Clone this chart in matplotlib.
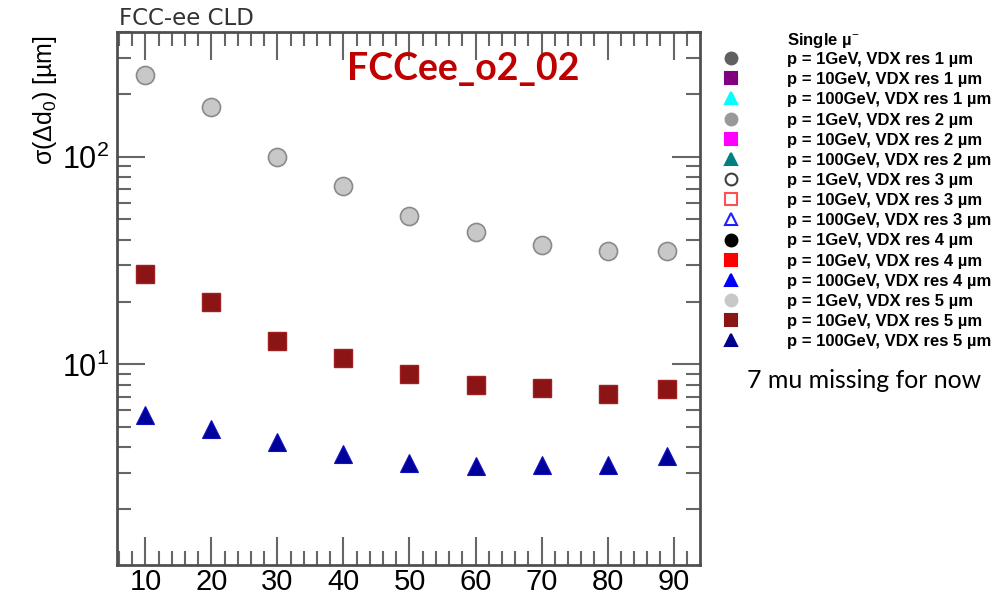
import matplotlib
matplotlib.use("Agg")
import matplotlib.pyplot as plt
from matplotlib.lines import Line2D
from matplotlib.ticker import FixedLocator, LogLocator, NullFormatter, LogFormatterSciNotation

plt.rcParams['font.family'] = ['Liberation Sans', 'DejaVu Sans']
plt.rcParams['mathtext.fontset'] = 'custom'
plt.rcParams['mathtext.rm'] = 'Liberation Sans'
plt.rcParams['mathtext.it'] = 'Liberation Sans:italic'

# polar angle (deg)
theta = [10, 20, 30, 40, 50, 60, 70, 80, 89]

# VDX res 5 um (the other resolutions lie on top of these)
sig_1gev = [248, 174, 100, 72.6, 52, 43.5, 37.8, 35.3, 35.3]
sig_10gev = [27.4, 19.9, 12.9, 10.7, 8.96, 7.93, 7.67, 7.17, 7.58]
sig_100gev = [5.69, 4.87, 4.22, 3.69, 3.34, 3.24, 3.27, 3.27, 3.61]

# legend: (label, marker, face, edge)
leg_entries = [
    ("p = 1GeV, VDX res 1 µm", "o", "#606060", "#606060"),
    ("p = 10GeV, VDX res 1 µm", "s", "#800080", "#800080"),
    ("p = 100GeV, VDX res 1 µm", "^", "#00FFFF", "#00FFFF"),
    ("p = 1GeV, VDX res 2 µm", "o", "#999999", "#999999"),
    ("p = 10GeV, VDX res 2 µm", "s", "#FF00FF", "#FF00FF"),
    ("p = 100GeV, VDX res 2 µm", "^", "#008080", "#008080"),
    ("p = 1GeV, VDX res 3 µm", "o", "none", "#404040"),
    ("p = 10GeV, VDX res 3 µm", "s", "none", "#FF5050"),
    ("p = 100GeV, VDX res 3 µm", "^", "none", "#2020FF"),
    ("p = 1GeV, VDX res 4 µm", "o", "#000000", "#000000"),
    ("p = 10GeV, VDX res 4 µm", "s", "#FF0000", "#FF0000"),
    ("p = 100GeV, VDX res 4 µm", "^", "#0000FF", "#0000FF"),
    ("p = 1GeV, VDX res 5 µm", "o", "#C8C8C8", "#C8C8C8"),
    ("p = 10GeV, VDX res 5 µm", "s", "#8B1414", "#8B1414"),
    ("p = 100GeV, VDX res 5 µm", "^", "#00008B", "#00008B"),
]

fig = plt.figure(figsize=(9.94, 5.97), dpi=100)
ax = fig.add_axes([117/994, 32/597, (700-117)/994, (565-32)/597])

ax.plot(theta, sig_1gev, 'o', ms=13, mfc='#C8C8C8', mec='#8A8A8A', mew=1.2)
ax.plot(theta, sig_10gev, 's', ms=12.5, mfc='#8B1414', mec='#A02020', mew=1)
ax.plot(theta, sig_100gev, '^', ms=13, mfc='#00009B', mec='#1010C0', mew=0.8)

ax.set_yscale('log')
ax.set_xlim(5.7, 94.0)
ax.set_ylim(1.08, 400)

ax.xaxis.set_major_locator(FixedLocator(theta[:-1] + [90]))
ax.xaxis.set_minor_locator(FixedLocator([x for x in range(6, 94, 2) if x % 10]))
ax.yaxis.set_major_locator(LogLocator(base=10))
ax.yaxis.set_minor_locator(LogLocator(base=10, subs=range(2, 10)))
ax.yaxis.set_major_formatter(LogFormatterSciNotation())
ax.yaxis.set_minor_formatter(NullFormatter())

for sp in ax.spines.values():
    sp.set_color('#505050')
    sp.set_linewidth(2)
ax.tick_params(which='both', direction='in', top=True, right=True, color='#666666', width=1.5)
ax.tick_params(which='major', length=20, labelsize=21, pad=2)
ax.tick_params(which='minor', length=10)
ax.tick_params(axis='y', which='major', labelsize=22, pad=6)

ax.set_ylabel(r'σ(Δd$_\mathrm{0}$) [µm]', fontsize=18, loc='top')
ax.yaxis.set_label_coords(-0.10, 0.994)

fig.text(119/994, 1 - 25/597, 'FCC-ee CLD', fontsize=16.5, family='DejaVu Sans', color='#333333',
         ha='left', va='baseline')
ax.text(0.395, 0.93, 'FCCee_o2_02', transform=ax.transAxes, fontsize=27, fontweight='bold',
        color='#C00000', family='Lato', ha='left', va='center')

handles = [Line2D([], [], ls='none', marker=m, ms=8.5, mfc=fc, mec=ec, mew=1.5) for _, m, fc, ec in leg_entries]
labels = [e[0] for e in leg_entries]
fig.legend(handles, labels, loc='upper left', bbox_to_anchor=(723/994, 1 - 52/597), frameon=False,
           prop={'weight': 'bold', 'size': 12}, handlelength=1.0,
           handletextpad=2.83, labelspacing=0.31, borderpad=0, borderaxespad=0)
fig.text(787/994, 1 - 40/597, 'Single µ$^{\\mathrm{-}}$', fontsize=12, fontweight='bold', va='center')
fig.text(747/994, 1 - 381/597, '7 mu missing for now', fontsize=17.9, family='Lato', va='center')

fig.savefig('out.png', dpi=100)
